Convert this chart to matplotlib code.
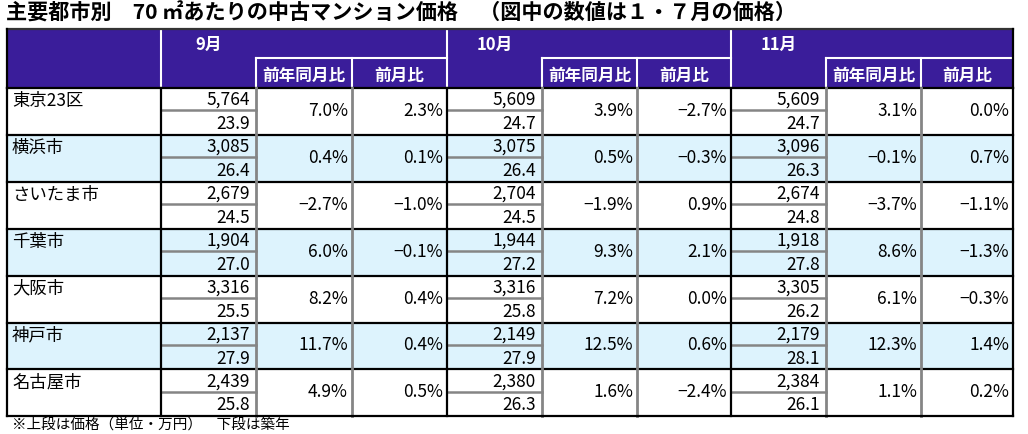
import matplotlib.pyplot as plt
from matplotlib.patches import Rectangle

plt.rcParams['font.family'] = ['Noto Sans CJK JP', 'DejaVu Sans']

# データ
cities = ["東京23区", "横浜市", "さいたま市", "千葉市", "大阪市", "神戸市", "名古屋市"]
months = ["9月", "10月", "11月"]
price = [
    [5764, 5609, 5609],
    [3085, 3075, 3096],
    [2679, 2704, 2674],
    [1904, 1944, 1918],
    [3316, 3316, 3305],
    [2137, 2149, 2179],
    [2439, 2380, 2384],
]
age = [
    [23.9, 24.7, 24.7],
    [26.4, 26.4, 26.3],
    [24.5, 24.5, 24.8],
    [27.0, 27.2, 27.8],
    [25.5, 25.8, 26.2],
    [27.9, 27.9, 28.1],
    [25.8, 26.3, 26.1],
]
yoy = [
    [7.0, 3.9, 3.1],
    [0.4, 0.5, -0.1],
    [-2.7, -1.9, -3.7],
    [6.0, 9.3, 8.6],
    [8.2, 7.2, 6.1],
    [11.7, 12.5, 12.3],
    [4.9, 1.6, 1.1],
]
mom = [
    [2.3, -2.7, 0.0],
    [0.1, -0.3, 0.7],
    [-1.0, 0.9, -1.1],
    [-0.1, 2.1, -1.3],
    [0.4, 0.0, -0.3],
    [0.4, 0.6, 1.4],
    [0.5, -2.4, 0.2],
]
sub_headers = ["前年同月比", "前月比"]
title = "主要都市別　70 ㎡あたりの中古マンション価格　（図中の数値は１・７月の価格）"
note = "※上段は価格（単位・万円）　下段は築年"

# レイアウト (ピクセル)
W, H = 1028, 434
x_edges = [7, 161, 256, 352, 447, 542, 637, 731, 826, 921, 1013]
top, sub_y, head_bot = 29, 58, 88
row_h = 46.9

header_col = "#3A1D9A"
blue = "#DDF3FD"
grey = "#858585"

fig = plt.figure(figsize=(W / 100, H / 100), dpi=100)
ax = fig.add_axes([0, 0, 1, 1])
ax.set_xlim(0, W)
ax.set_ylim(H, 0)
ax.axis("off")

fig.text(6 / W, 1 - 13 / H, title, fontsize=15.2, fontweight="bold", va="center", ha="left")

left, right = x_edges[0], x_edges[-1]
n = len(cities)
bottom = head_bot + row_h * n

# ヘッダー
ax.add_patch(Rectangle((left, top), right - left, head_bot - top, color=header_col, lw=0))
for g, m in enumerate(months):
    x0 = x_edges[1 + 3 * g]
    xv = x_edges[2 + 3 * g]
    xm = x_edges[3 + 3 * g]
    x1 = x_edges[4 + 3 * g]
    if g > 0:
        ax.plot([x0, x0], [top, head_bot], color="white", lw=1.5)
    ax.plot([xv, x1], [sub_y, sub_y], color="white", lw=1.5)
    ax.plot([xv, xv], [sub_y, head_bot], color="white", lw=1.5)
    ax.plot([xm, xm], [sub_y, head_bot], color="white", lw=1.5)
    ax.text((x0 + xv) / 2, 45, m, color="white", fontsize=12, fontweight="bold",
            ha="center", va="center")
    ax.text((xv + xm) / 2, 76, sub_headers[0], color="white", fontsize=12,
            fontweight="bold", ha="center", va="center")
    ax.text((xm + x1) / 2, 76, sub_headers[1], color="white", fontsize=12,
            fontweight="bold", ha="center", va="center")
ax.plot([x_edges[1], x_edges[1]], [top, head_bot], color="white", lw=1.5)

# 行
for i, city in enumerate(cities):
    y0 = head_bot + i * row_h
    if i % 2 == 1:
        ax.add_patch(Rectangle((left, y0), right - left, row_h, color=blue, lw=0))
    ax.text(12, y0 + 13, city, fontsize=12.5, ha="left", va="center")
    for g in range(3):
        x0 = x_edges[1 + 3 * g]
        xv = x_edges[2 + 3 * g]
        xm = x_edges[3 + 3 * g]
        x1 = x_edges[4 + 3 * g]
        ax.plot([x0, xv], [y0 + row_h / 2 - 1, y0 + row_h / 2 - 1], color=grey, lw=1.8)
        ax.text(xv - 6, y0 + 12, f"{price[i][g]:,}", fontsize=12.5, ha="right", va="center")
        ax.text(xv - 6, y0 + 36, f"{age[i][g]:.1f}", fontsize=12.5, ha="right", va="center")
        ax.text(xm - 4, y0 + 23, f"{yoy[i][g]:.1f}%".replace("-", "−"), fontsize=12.5,
                ha="right", va="center")
        ax.text(x1 - 4, y0 + 23, f"{mom[i][g]:.1f}%".replace("-", "−"), fontsize=12.5,
                ha="right", va="center")
    ax.plot([left, right], [y0, y0], color="black", lw=1.6)

# 縦線
for k, x in enumerate(x_edges):
    if k in (0, 1, 4, 7, 10):
        ax.plot([x, x], [head_bot, bottom], color="black", lw=1.6)
    else:
        ax.plot([x, x], [head_bot, bottom], color=grey, lw=2.0)
ax.plot([left, right], [bottom, bottom], color="black", lw=1.6)
ax.plot([left, right], [top, top], color="#333333", lw=1.6)
ax.plot([left, left], [top, head_bot], color="black", lw=1.6)
ax.plot([right, right], [top, head_bot], color="black", lw=1.6)

fig.text(12 / W, 1 - 426 / H, note, fontsize=10.5, ha="left", va="center")

fig.savefig("out.png", dpi=100)
